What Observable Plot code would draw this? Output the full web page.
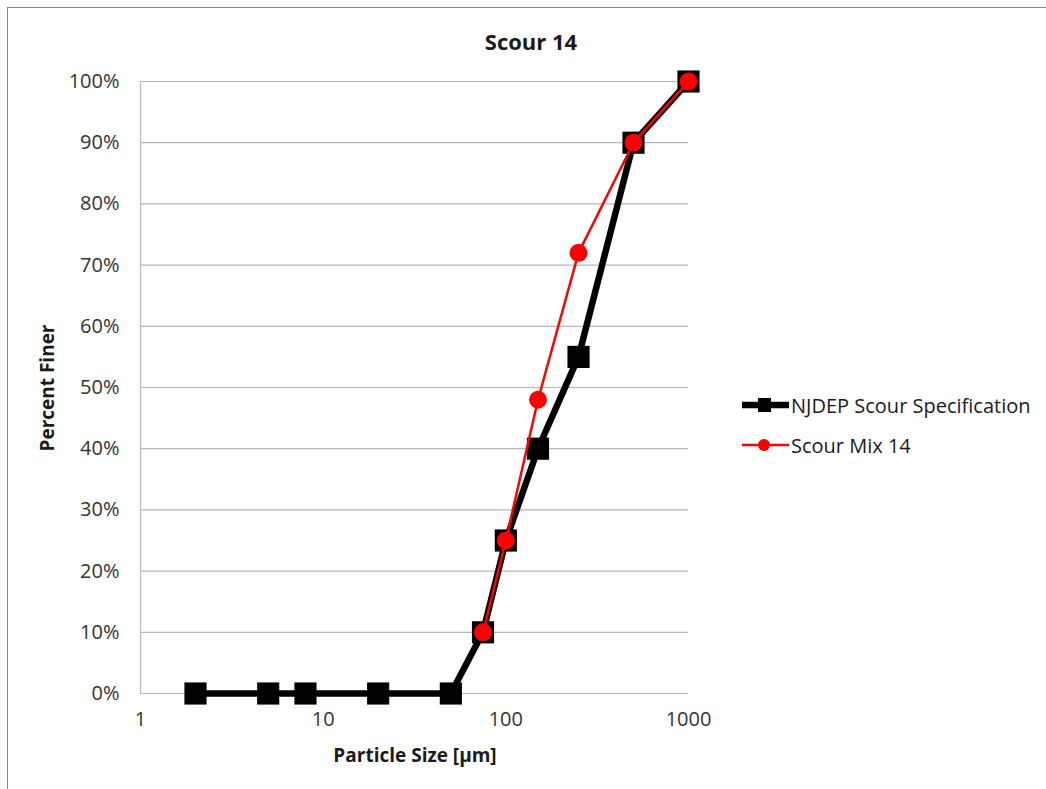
<!DOCTYPE html>
<html>
<head>
<meta charset="utf-8">
<script src="https://cdn.jsdelivr.net/npm/d3@7"></script>
<script src="https://cdn.jsdelivr.net/npm/@observablehq/plot@0.6"></script>
<style>
  body { margin: 0; background: #fff; font-family: "Open Sans", "Liberation Sans", sans-serif; }
  #wrap { position: relative; width: 1046px; height: 789px; overflow: hidden; background: #fff; }
  #frame { position: absolute; left: 7px; top: 7px; width: 1060px; height: 800px; border: 1.5px solid #8a8a8a; box-sizing: border-box; }
  #chart { position: absolute; left: 0; top: 0; }
  .t { position: absolute; font-weight: bold; white-space: nowrap; color: #1a1a1a; }
  #title { left: 531px; top: 41px; transform: translate(-50%, -50%); font-size: 22px; }
  #ylab { left: 47px; top: 388px; transform: translate(-50%, -50%) rotate(-90deg); font-size: 19px; }
  #xlab { left: 415px; top: 755px; transform: translate(-50%, -50%); font-size: 19px; }
  #legend { position: absolute; left: 740px; top: 391px; font-size: 20px; color: #1a1a1a; }
  .li { display: flex; align-items: center; height: 28px; margin-bottom: 12px; }
  .li svg { margin-right: 1px; }
</style>
</head>
<body>
<div id="wrap">
  <div id="frame"></div>
  <div id="chart"></div>
  <div class="t" id="title">Scour 14</div>
  <div class="t" id="ylab">Percent Finer</div>
  <div class="t" id="xlab">Particle Size [µm]</div>
  <div id="legend"></div>
</div>
<script>
// Data
const specSize = [2, 5, 8, 20, 50, 75, 100, 150, 250, 500, 1000];
const specFiner = [0, 0, 0, 0, 0, 0.10, 0.25, 0.40, 0.55, 0.90, 1.00];
const mixSize = [75, 100, 150, 250, 500, 1000];
const mixFiner = [0.10, 0.25, 0.48, 0.72, 0.90, 1.00];
const xTicks = [1, 10, 100, 1000];
const yTicks = [0, 0.1, 0.2, 0.3, 0.4, 0.5, 0.6, 0.7, 0.8, 0.9, 1.0];
const seriesNames = ["NJDEP Scour Specification", "Scour Mix 14"];

const spec = specSize.map((s, i) => ({size: s, finer: specFiner[i]}));
const mix = mixSize.map((s, i) => ({size: s, finer: mixFiner[i]}));

const chart = Plot.plot({
  width: 1046,
  height: 789,
  marginLeft: 140,
  marginRight: 358,
  marginTop: 81,
  marginBottom: 96,
  style: {fontFamily: "'Open Sans', 'Liberation Sans', sans-serif", fontSize: "20px", color: "#333", background: "transparent"},
  x: {type: "log", domain: [1, 1000], label: null},
  y: {domain: [0, 1], label: null},
  marks: [
    Plot.gridY(yTicks, {stroke: "#b8b8b8", strokeOpacity: 1, strokeWidth: 1.2}),
    Plot.ruleX([1], {stroke: "#b8b8b8", strokeWidth: 1.2}),
    Plot.axisX({ticks: xTicks, tickFormat: d => String(d), tickSize: 0, tickPadding: 18, fill: "#333", fontSize: 20, label: null}),
    Plot.axisY({ticks: yTicks, tickFormat: d => Math.round(d * 100) + "%", tickSize: 0, tickPadding: 21, fill: "#333", fontSize: 20, label: null}),
    Plot.line(spec, {x: "size", y: "finer", stroke: "#000", strokeWidth: 6.5}),
    Plot.dot(spec, {x: "size", y: "finer", symbol: "square", r: 12.5, fill: "#000", stroke: "none"}),
    Plot.line(mix, {x: "size", y: "finer", stroke: "#ff0000", strokeWidth: 2.5}),
    Plot.dot(mix, {x: "size", y: "finer", symbol: "circle", r: 9, fill: "#ff0000", stroke: "none"})
  ]
});
document.getElementById("chart").appendChild(chart);

// Legend
const legend = document.getElementById("legend");
const legendStyles = [
  {stroke: "#000", width: 6.5, marker: "square"},
  {stroke: "#ff0000", width: 2.5, marker: "circle"}
];
seriesNames.forEach((name, i) => {
  const st = legendStyles[i];
  const row = document.createElement("div");
  row.className = "li";
  const m = st.marker === "square"
    ? `<rect x="18" y="7" width="13" height="14" fill="#000"/>`
    : `<circle cx="24" cy="14" r="6" fill="#ff0000"/>`;
  row.innerHTML = `<svg width="50" height="28"><line x1="2" x2="49" y1="14" y2="14" stroke="${st.stroke}" stroke-width="${st.width}"/>${m}</svg><span>${name}</span>`;
  legend.appendChild(row);
});
</script>
</body>
</html>
